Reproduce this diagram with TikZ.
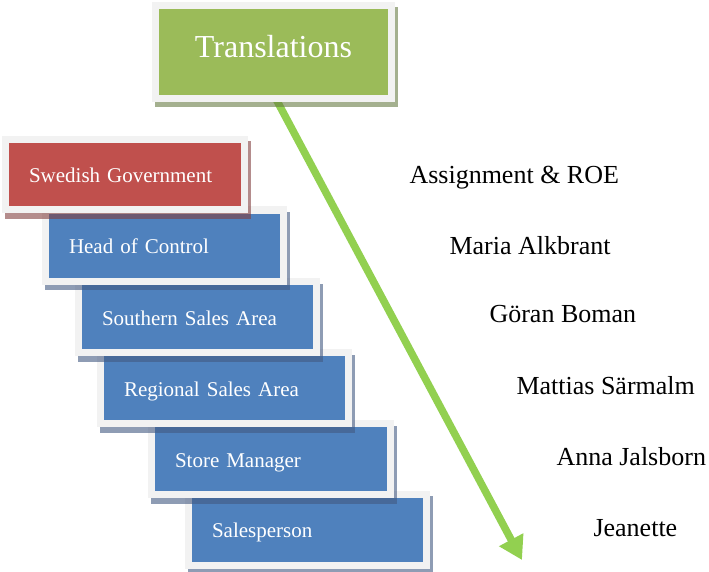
\documentclass[tikz,border=0pt]{standalone}
\usepackage{fontspec}
\setmainfont{Liberation Serif}
\usetikzlibrary{arrows.meta,shadows,backgrounds}

\definecolor{framegray}{HTML}{F2F2F2}
\definecolor{boxgreen}{HTML}{9BBB59}
\definecolor{boxred}{HTML}{C0504D}
\definecolor{boxblue}{HTML}{4F81BD}
\definecolor{arrowgreen}{HTML}{92D050}
\definecolor{shgreen}{HTML}{677B44}
\definecolor{shred}{HTML}{823F3F}
\definecolor{shblue}{HTML}{435A82}

\tikzset{
  orgbox/.style={rectangle, fill=framegray, text=white, align=left,
    inner xsep=27pt, inner ysep=0pt, minimum height=78pt, text width=191pt,
    text height=20pt, text depth=4pt, font=\fontsize{21}{25}\selectfont},
  boxcolor/.style 2 args={
    path picture={\fill[#1] ([shift={(7pt,-7pt)}]path picture bounding box.north west)
      rectangle ([shift={(-7pt,7pt)}]path picture bounding box.south east);},
    drop shadow={shadow xshift=3pt, shadow yshift=-5.5pt, fill=#2, opacity=.6}},
  person/.style={anchor=base west, font=\fontsize{26}{30}\selectfont}
}

\begin{document}
\begin{tikzpicture}[x=1pt, y=-1pt]
            \useasboundingbox (0,0) rectangle (709,572);

            % Translations box
            \node[orgbox, boxcolor={boxgreen}{shgreen}, align=center, inner xsep=0pt,
                  text width=243pt, minimum height=100pt, text height=18pt, text depth=6pt,
                  font=\fontsize{32}{36}\selectfont] (trans) at (273.5,52) {Translations};

            % Hierarchy, lowest first
            \foreach \id/\cx/\cy/\tw/\label in {
                sales/307.5/529.5/191/Salesperson,
                store/271/459/192/Store Manager,
                regional/224.5/388/201/Regional Sales Area,
                southern/197.5/317/191/Southern Sales Area,
                head/164.5/245.5/191/Head of Control}
                \node[orgbox, boxcolor={boxblue}{shblue}, text width=\tw pt] (\id) at (\cx,\cy) {\label};
            \node[orgbox, boxcolor={boxred}{shred}, text width=192pt, minimum height=77pt] (gov) at (125,174.5) {Swedish Government};

            % Names
            \node[person] (assign) at (406,184) {Assignment \& ROE};
            \node[person] (maria) at (446,254) {Maria Alkbrant};
            \node[person] (goran) at (486,322) {Göran Boman};
            \node[person] (mattias) at (513,394) {Mattias Särmalm};
            \node[person] (anna) at (553,465) {Anna Jalsborn};
            \node[person] (jeanette) at (590,536) {Jeanette};

            % Arrow
            \coordinate (tip) at (522,560);
            \begin{pgfonlayer}{background}
                \draw[arrowgreen, line width=7.5pt, -{Triangle[length=23pt, width=26pt]}]
                    ([xshift=1pt, yshift=6pt]trans.south) -- (tip);
            \end{pgfonlayer}
\end{tikzpicture}
\end{document}
